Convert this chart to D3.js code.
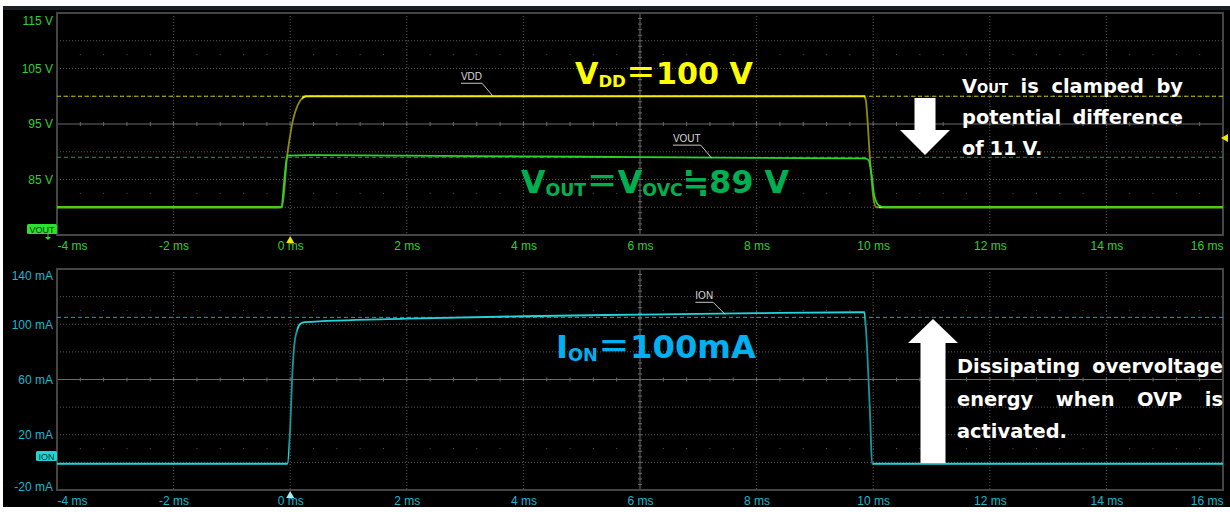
<!DOCTYPE html>
<html>
<head>
<meta charset="utf-8">
<script src="https://cdn.jsdelivr.net/npm/d3@7"></script>
<style>
    body { margin: 0; background: #ffffff; }
    svg { display: block; }
</style>
</head>
<body>
<script>
// Scope capture: VDD, VOUT (top, volts) and ION (bottom, mA) against time.

var W = 1230, H = 512;

// time axis ticks (ms)
var timeTicks = [-4, -2, 0, 2, 4, 6, 8, 10, 12, 14, 16];
var voltTicks = [115, 105, 95, 85];
var currTicks = [140, 100, 60, 20, -20];

// traces: time in ms, value in V or mA
var vddTime = [-4, -0.14, -0.05, 0.0, 0.05, 0.1, 0.17, 0.28, 9.85, 9.87,
    9.95, 10.0, 10.05, 16];
var vddVal = [80, 80, 89.5, 93, 95.8, 97.6, 99.2, 100, 100, 99.5,
    88, 82, 80, 80];

var voutTime = [-4, -0.15, -0.1, -0.05, 0.3, 2, 5, 8, 9.85, 9.92, 9.97,
    10.02, 10.1, 10.2, 16];
var voutVal = [80, 80, 85, 89.3, 89.4, 89.3, 89.1, 88.9, 88.8, 88.5, 86,
    82, 80.3, 80, 80];

var ionTime = [-4, -0.05, 0.0, 0.03, 0.07, 0.12, 0.18, 0.25, 2, 4, 6, 8,
    9.85, 9.87, 9.95, 9.98, 16];
var ionVal = [-1, -1, 25, 58, 85, 96, 100.5, 101.5, 104, 105.8, 107, 108,
    108.7, 100, 30, -1, -1];

// reference (dashed) levels
var vddRef = 100, voutRef = 89, ionRef = 105;

var svg = d3.select("body").append("svg")
    .attr("width", W)
    .attr("height", H);
var defs = svg.append("defs");

// black screen
svg.append("rect").attr("x", 3).attr("y", 6)
    .attr("width", 1227).attr("height", 501).attr("fill", "#000");
svg.append("rect").attr("x", 3).attr("y", 6)
    .attr("width", 1227).attr("height", 4).attr("fill", "#1b1e24");

var x = d3.scaleLinear().domain([-4, 16]).range([57, 1223]);
var yV = d3.scaleLinear().domain([75, 115]).range([235, 13]);
var yI = d3.scaleLinear().domain([-20, 140]).range([490, 269]);

// grid for one panel: 10 x 8 divisions
function drawGrid(y, step, mid) {
    var g = svg.append("g");
    var y0 = y.domain()[0], y1 = y.domain()[1];
    var rows = d3.range(y0 + step, y1, step);
    var cols = d3.range(-2, 16, 2);
    g.selectAll(".hg").data(rows).enter().append("line")
        .attr("x1", x(-4)).attr("x2", x(16))
        .attr("y1", function (d) { return y(d); })
        .attr("y2", function (d) { return y(d); })
        .attr("stroke", function (d) { return d === mid ? "#6a6a6a" : "#5a5a5a"; })
        .attr("stroke-dasharray", function (d) { return d === mid ? null : "1,2"; });
    g.selectAll(".vg").data(cols).enter().append("line")
        .attr("y1", y(y1)).attr("y2", y(y0))
        .attr("x1", function (d) { return x(d); })
        .attr("x2", function (d) { return x(d); })
        .attr("stroke", function (d) { return d === 6 ? "#6a6a6a" : "#5a5a5a"; })
        .attr("stroke-dasharray", function (d) { return d === 6 ? null : "1,2"; });

    // minor ticks on the centre cross
    var minorX = d3.range(-4, 16.01, 0.4);
    g.selectAll(".mx").data(minorX).enter().append("line")
        .attr("x1", function (d) { return x(d); })
        .attr("x2", function (d) { return x(d); })
        .attr("y1", y(mid) - 2).attr("y2", y(mid) + 2)
        .attr("stroke", "#6a6a6a");
    var minorY = d3.range(y0, y1 + 0.01, step / 5);
    g.selectAll(".my").data(minorY).enter().append("line")
        .attr("y1", function (d) { return y(d); })
        .attr("y2", function (d) { return y(d); })
        .attr("x1", x(6) - 2).attr("x2", x(6) + 2)
        .attr("stroke", "#6a6a6a");

    // dot rows
    [y0 + step * 1.5, y0 + step * 6.5].forEach(function (v) {
        g.selectAll(null).data(minorX).enter().append("rect")
            .attr("x", function (d) { return x(d) - 0.5; })
            .attr("y", y(v) - 0.5)
            .attr("width", 1).attr("height", 1)
            .attr("fill", "#5a5a5a");
    });

    // border
    g.append("rect")
        .attr("x", x(-4)).attr("y", y(y1))
        .attr("width", x(16) - x(-4)).attr("height", y(y0) - y(y1))
        .attr("fill", "none").attr("stroke", "#454545").attr("stroke-width", 2);
}

drawGrid(yV, 5, 95);
drawGrid(yI, 20, 60);

// axes
function styleAxis(sel, color) {
    sel.select(".domain").remove();
    sel.selectAll("text")
        .attr("fill", color)
        .attr("font-family", "Liberation Sans, Arial, sans-serif")
        .attr("font-size", "12px");
}

function timeAxis(yPos, color) {
    var ax = svg.append("g")
        .attr("transform", "translate(0," + yPos + ")")
        .call(d3.axisBottom(x).tickValues(timeTicks).tickSize(0)
            .tickPadding(6).tickFormat(function (d) { return d + " ms"; }));
    styleAxis(ax, color);
    ax.selectAll(".tick text")
        .attr("text-anchor", function (d) {
            return d === -4 ? "start" : (d === 16 ? "end" : "middle");
        });
}

timeAxis(yV(75), "#2ed12e");
timeAxis(yI(-20), "#1ab8d0");

var axV = svg.append("g")
    .attr("transform", "translate(" + x(-4) + ",0)")
    .call(d3.axisLeft(yV).tickValues(voltTicks).tickSize(0).tickPadding(4)
        .tickFormat(function (d) { return d + " V"; }));
styleAxis(axV, "#2ed12e");
axV.selectAll(".tick text").filter(function (d) { return d === 115; })
    .attr("dy", "0.95em");

var axI = svg.append("g")
    .attr("transform", "translate(" + x(-4) + ",0)")
    .call(d3.axisLeft(yI).tickValues(currTicks).tickSize(0).tickPadding(4)
        .tickFormat(function (d) { return d + " mA"; }));
styleAxis(axI, "#1ab8d0");
axI.selectAll(".tick text")
    .attr("dy", function (d) {
        return d === 140 ? "0.85em" : (d === -20 ? "0em" : "0.32em");
    });

// reference dashed levels
function refLine(y, v, color) {
    svg.append("line")
        .attr("x1", x(-4)).attr("x2", x(16))
        .attr("y1", y(v)).attr("y2", y(v))
        .attr("stroke", color).attr("stroke-width", 1)
        .attr("stroke-dasharray", "4,3");
}
refLine(yV, vddRef, "#c8c400");
refLine(yV, voutRef, "#10a050");
refLine(yI, ionRef, "#1a9fd0");

// fast edges show up dimmer on the scope: horizontal gradient per trace
function edgeGradient(id, bright, dim, edges) {
    var lg = defs.append("linearGradient").attr("id", id)
        .attr("gradientUnits", "userSpaceOnUse")
        .attr("x1", x(-4)).attr("x2", x(16)).attr("y1", 0).attr("y2", 0);
    var span = x(16) - x(-4);
    edges.forEach(function (e) {
        var a = (x(e[0]) - x(-4)) / span, b = (x(e[1]) - x(-4)) / span;
        lg.append("stop").attr("offset", a).attr("stop-color", bright);
        lg.append("stop").attr("offset", a).attr("stop-color", dim);
        lg.append("stop").attr("offset", b).attr("stop-color", dim);
        lg.append("stop").attr("offset", b).attr("stop-color", bright);
    });
    return "url(#" + id + ")";
}

// traces
function trace(ts, vs, y, color) {
    var pts = ts.map(function (t, i) { return [t, vs[i]]; });
    var line = d3.line()
        .x(function (d) { return x(d[0]); })
        .y(function (d) { return y(d[1]); })
        .curve(d3.curveMonotoneX);
    svg.append("path")
        .attr("d", line(pts))
        .attr("fill", "none")
        .attr("stroke", color)
        .attr("stroke-width", 1.8);
}
trace(vddTime, vddVal, yV,
    edgeGradient("gVdd", "#f0f000", "#8f8a10", [[-0.2, 0.2], [9.86, 10.1]]));
trace(voutTime, voutVal, yV, "#26d826");
trace(ionTime, ionVal, yI,
    edgeGradient("gIon", "#22d3da", "#17979c", [[-0.02, 0.12], [9.86, 10.0]]));

// small trace name labels with leader lines
function traceLabel(name, t, y, v, dx, dy) {
    var px = x(t), py = y(v);
    var tx = px + dx, ty = py + dy;
    var lbl = svg.append("text")
        .attr("x", tx).attr("y", ty)
        .attr("text-anchor", "end")
        .attr("fill", "#d8d8d8")
        .attr("font-family", "Liberation Sans, Arial, sans-serif")
        .attr("font-size", "10px")
        .text(name);
    var w = lbl.node().getComputedTextLength();
    svg.append("polyline")
        .attr("points", [[tx - w, ty + 3], [tx, ty + 3], [px, py]].join(" "))
        .attr("fill", "none").attr("stroke", "#c8c8c8").attr("stroke-width", 1);
}
traceLabel("VDD", 3.48, yV, 100, -11, -16);
traceLabel("VOUT", 7.23, yV, 88.85, -11, -16);
traceLabel("ION", 7.46, yI, 107.2, -12, -15);

// channel badges
function badge(label, bx, by, bw, color) {
    svg.append("rect").attr("x", bx).attr("y", by)
        .attr("width", bw).attr("height", 10).attr("rx", 1.5)
        .attr("fill", color);
    svg.append("text")
        .attr("x", bx + bw / 2).attr("y", by + 8.5)
        .attr("text-anchor", "middle")
        .attr("fill", "#003a10")
        .attr("font-family", "Liberation Sans, Arial, sans-serif")
        .attr("font-size", "9px")
        .text(label);
}
badge("VOUT", 27, 224, 30, "#2ee02e");
svg.append("path").attr("d", "M45,237 L51,237 L48,240 Z").attr("fill", "#2ee02e");
svg.append("line").attr("x1", 48).attr("x2", 48).attr("y1", 234).attr("y2", 237)
    .attr("stroke", "#2ee02e");
badge("ION", 36, 451, 21, "#22d3da");

// trigger markers
svg.append("path")
    .attr("d", "M" + x(0) + "," + (yV(75) + 1) + " l-4,7 l8,0 Z")
    .attr("fill", "#f0e800");
svg.append("path")
    .attr("d", "M" + x(0) + "," + (yI(-20) + 1) + " l-4,7 l8,0 Z")
    .attr("fill", "#9ff0f5");
svg.append("path")
    .attr("d", "M1221," + yV(92.5) + " l7,-4 l0,8 Z")
    .attr("fill", "#f0e800");

// big coloured annotations, scaled to span the width seen on the capture
var bigFont = "'DejaVu Sans', 'Noto Sans CJK JP', sans-serif";
function bigText(xp, yp, width, color, parts) {
    var t = svg.append("text")
        .attr("x", xp).attr("y", yp)
        .attr("fill", color)
        .attr("font-family", bigFont)
        .attr("font-weight", "bold")
        .attr("font-size", "31px");
    var subs = [];
    var shift = 0;
    parts.forEach(function (p) {
        var s = t.append("tspan").text(p[0]);
        if (p[1]) {
            s.attr("font-size", "17px").attr("dy", 3);
            shift = 3;
            subs.push(s);
        } else if (shift) {
            s.attr("dy", -shift);
            shift = 0;
        }
    });
    var w = t.node().getComputedTextLength();
    var k = width / w;
    if (k < 1.1 && k > 0.85) {
        t.attr("font-size", (31 * k) + "px");
        subs.forEach(function (s) { s.attr("font-size", (17 * k) + "px"); });
    }
    return t;
}
bigText(575, 84, 178, "#ffff00", [["V"], ["DD", 1], ["＝100 V"]]);
bigText(521, 193, 268, "#00b050",
    [["V"], ["OUT", 1], ["＝V"], ["OVC", 1], ["≒89 V"]]);
bigText(556, 358, 200, "#00b0f0", [["I"], ["ON", 1], ["＝100mA"]]);

// white arrows
function arrow(cx, tipY, baseY, headY, shaftW, headW) {
    var pts = [
        [cx, tipY],
        [cx + headW / 2, headY],
        [cx + shaftW / 2, headY],
        [cx + shaftW / 2, baseY],
        [cx - shaftW / 2, baseY],
        [cx - shaftW / 2, headY],
        [cx - headW / 2, headY]
    ];
    svg.append("polygon").attr("points", pts.join(" ")).attr("fill", "#fff");
}
arrow(925, 155, 98, 130, 21, 50);
arrow(933, 319, 463, 343, 25, 50);

// justified white paragraphs
var noteFont = "'DejaVu Sans', Verdana, sans-serif";

// pick the size so "activated." is as wide as on the capture (~110 px)
var probe = svg.append("text")
    .attr("font-family", noteFont).attr("font-weight", "bold")
    .attr("font-size", "20px").text("activated.");
var noteSize = 20 * 110 / probe.node().getComputedTextLength();
probe.remove();

function noteLine(words, x0, x1, yb, justify) {
    var nodes = words.map(function (w) {
        var t = svg.append("text")
            .attr("y", yb)
            .attr("fill", "#fff")
            .attr("font-family", noteFont)
            .attr("font-weight", "bold")
            .attr("font-size", noteSize + "px");
        w.forEach(function (p) {
            var s = t.append("tspan").text(p[0]);
            if (p[1]) {
                s.attr("font-size", (noteSize * 0.68) + "px");
            }
        });
        return t;
    });
    var widths = nodes.map(function (n) { return n.node().getComputedTextLength(); });
    var total = d3.sum(widths);
    var gap = justify && nodes.length > 1 ?
        (x1 - x0 - total) / (nodes.length - 1) : noteSize * 0.3;
    var cx = x0;
    nodes.forEach(function (n, i) {
        n.attr("x", cx);
        cx += widths[i] + gap;
    });
}
noteLine([[["V"], ["OUT", 1]], [["is"]], [["clamped"]], [["by"]]], 962, 1183, 93, true);
noteLine([[["potential"]], [["difference"]]], 962, 1183, 124, true);
noteLine([[["of"]], [["11"]], [["V."]]], 962, 1183, 155, false);
noteLine([[["Dissipating"]], [["overvoltage"]]], 957, 1223, 373, true);
noteLine([[["energy"]], [["when"]], [["OVP"]], [["is"]]], 957, 1223, 406, true);
noteLine([[["activated."]]], 957, 1223, 438, false);
</script>
</body>
</html>
